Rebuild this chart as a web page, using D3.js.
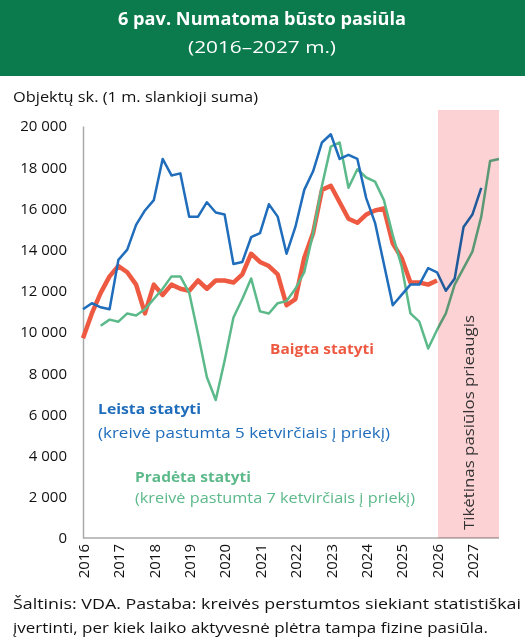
<!DOCTYPE html>
<html><head><meta charset="utf-8">
<script src="https://cdn.jsdelivr.net/npm/d3@7"></script>
<style>body{margin:0;background:#fff;font-family:"Open Sans",Arial,sans-serif}</style>
</head><body><svg id="c" width="525" height="643"></svg>
<script>
const years=[2016,2017,2018,2019,2020,2021,2022,2023,2024,2025,2026,2027];
const yTicks=[0,2000,4000,6000,8000,10000,12000,14000,16000,18000,20000];
// quarterly values starting 2016 Q1
const leista=[11100,11400,11200,11100,13500,14000,15200,15900,16400,18400,17600,17700,15600,15600,16300,15800,15700,13300,13400,14600,14800,16200,15600,13800,15100,16900,17800,19200,19600,18400,18600,18400,16500,15300,13300,11300,11800,12300,12300,13100,12900,12000,12600,15100,15700,17000];
const baigta=[9700,10900,11900,12700,13200,12900,12300,10900,12300,11800,12300,12100,12000,12500,12100,12500,12500,12400,12800,13800,13400,13200,12800,11300,11600,13600,14800,16900,17100,16300,15500,15300,15700,15900,16000,14300,13600,12400,12400,12300,12500];
const pradeta=[null,null,10300,10600,10500,10900,10800,11100,11600,12100,12700,12700,11900,9900,7800,6700,8600,10700,11600,12600,11000,10900,11400,11500,12100,12900,14800,17100,19000,19200,17000,17900,17500,17300,16400,14700,13200,10900,10500,9200,10100,10900,12300,13100,13900,15600,18300,18400];
const svg=d3.select("#c");
svg.append("rect").attr("width",525).attr("height",76).attr("fill","#0b7a4c");
function txt(t,xx,yy,o){const e=svg.append("text").attr("x",xx).attr("y",yy).attr("fill",o.c||"#111").attr("font-size",o.fs||14).attr("font-weight",o.b?"bold":"normal").attr("text-anchor",o.a||"start").text(t);if(o.len)e.attr("textLength",o.len).attr("lengthAdjust","spacingAndGlyphs");return e;}
txt("6 pav. Numatoma būsto pasiūla",262,25,{c:"#fff",fs:17,b:1,a:"middle",len:288});
txt("(2016–2027 m.)",262,53,{c:"#fff",fs:16,a:"middle",len:148});
txt("Objektų sk. (1 m. slankioji suma)",13,102,{fs:14,len:245});
const x=d3.scaleLinear().domain([2016,2026]).range([83,437]);
const y=d3.scaleLinear().domain([0,20000]).range([538,126]);
const g=svg.append("g");
const ya=g.append("g").attr("transform","translate(83,0)").call(d3.axisLeft(y).tickValues(yTicks).tickSize(0).tickPadding(16).tickFormat(d=>d3.format(",")(d).replace(","," ")));
ya.select(".domain").attr("stroke","#aaa").attr("stroke-width",1.5);
ya.selectAll("text").attr("font-size",15).attr("fill","#111").attr("font-family","Open Sans");
const xa=g.append("g").attr("transform","translate(0,538)").call(d3.axisBottom(x).tickValues(years).tickSize(0).tickFormat(d=>d));
xa.select(".domain").attr("stroke","#aaa").attr("stroke-width",1.5).attr("d","M83,0H499");
xa.selectAll("text").attr("font-size",15).attr("fill","#111").attr("font-family","Open Sans").attr("transform","rotate(-90)").attr("text-anchor","end").attr("x",-6).attr("y",0).attr("dy","0.35em");
function draw(arr,col,w){
  const line=d3.line().defined(d=>d!=null).x((d,i)=>x(2016+i/4)).y(d=>y(d));
  g.append("path").datum(arr).attr("d",line).attr("fill","none").attr("stroke",col).attr("stroke-width",w).attr("stroke-linejoin","round");
}
draw(baigta,"#ee5a41",4.5);
draw(pradeta,"#5cb98a",2.5);
draw(leista,"#1f6dbb",2.5);
g.append("rect").attr("x",x(2026)+1).attr("y",y(20000)-16).attr("width",61).attr("height",y(0)-y(20000)+16).attr("fill","#fcd2d4").style("mix-blend-mode","multiply");
g.append("text").attr("transform",`translate(${x(2026)+37},530) rotate(-90)`).attr("font-size",15).attr("fill","#333").attr("textLength",215).attr("lengthAdjust","spacingAndGlyphs").text("Tikėtinas pasiūlos prieaugis");
txt("Baigta statyti",270,354,{c:"#ee5a41",fs:15,b:1,len:104});
txt("Leista statyti",98,414,{c:"#1f6dbb",fs:15,b:1,len:103});
txt("(kreivė pastumta 5 ketvirčiais į priekį)",98,438,{c:"#1f6dbb",fs:15,len:292});
txt("Pradėta statyti",135,482,{c:"#5cb98a",fs:15,b:1,len:116});
txt("(kreivė pastumta 7 ketvirčiais į priekį)",135,503,{c:"#5cb98a",fs:15,len:280});
txt("Šaltinis: VDA. Pastaba: kreivės perstumtos siekiant statistiškai",13,609,{fs:15,len:508});
txt("įvertinti, per kiek laiko aktyvesnė plėtra tampa fizine pasiūla.",13,633,{fs:15,len:475});
</script></body></html>
